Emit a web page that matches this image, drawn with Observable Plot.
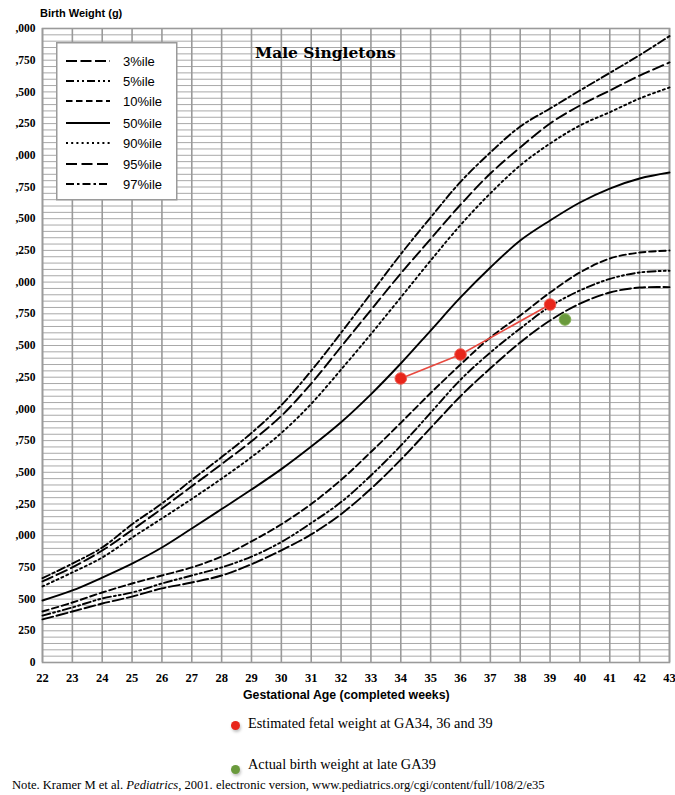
<!DOCTYPE html>
<html><head><meta charset="utf-8">
<script src="https://cdn.jsdelivr.net/npm/d3@7"></script>
<script src="https://cdn.jsdelivr.net/npm/@observablehq/plot@0.6"></script>
<style>
body{margin:0;background:#fff;}
#wrap{position:relative;width:675px;height:795px;overflow:hidden;background:#fff;}
.ov{position:absolute;white-space:nowrap;color:#000;}
</style></head><body><div id="wrap"></div>
<script>
// ---- data ----
const weeks = [22,23,24,25,26,27,28,29,30,31,32,33,34,35,36,37,38,39,40,41,42,43];
const p3  = [340,402,465,520,584,631,686,775,885,1010,1170,1370,1600,1850,2100,2320,2524,2697,2830,2918,2957,2960];
const p5  = [370,434,505,552,623,686,750,835,950,1100,1265,1475,1710,1970,2230,2445,2634,2808,2934,3025,3076,3090];
const p10 = [402,473,552,623,686,750,836,955,1090,1250,1440,1660,1890,2125,2350,2563,2737,2918,3076,3186,3233,3249];
const p50 = [489,568,670,780,907,1057,1210,1364,1525,1703,1895,2115,2358,2618,2879,3115,3328,3486,3628,3738,3817,3864];
const p90 = [600,710,828,985,1136,1290,1450,1620,1810,2040,2310,2590,2879,3170,3450,3700,3920,4093,4235,4340,4448,4535];
const p95 = [640,750,883,1045,1214,1390,1565,1745,1945,2200,2490,2780,3068,3340,3610,3856,4062,4251,4393,4511,4629,4732];
const p97 = [665,780,907,1090,1254,1440,1620,1810,2030,2300,2600,2910,3220,3510,3790,4022,4227,4369,4511,4650,4790,4940];
const seriesNames = ["3%ile","5%ile","10%ile","50%ile","90%ile","95%ile","97%ile"];
const seriesValues = [p3,p5,p10,p50,p90,p95,p97];
const estGA = [34,36,39];
const estWeight = [2240,2429,2823];
const actualGA = [39.5];
const actualWeight = [2705];
const yTicks = [0,250,500,750,1000,1250,1500,1750,2000,2250,2500,2750,3000,3250,3500,3750,4000,4250,4500,4750,5000];
const yTickLabels = ["0","250","500","750",",000",",250",",500",",750",",000",",250",",500",",750",",000",",250",",500",",750",",000",",250",",500",",750",",000"];
const gridY = d3.range(0,5001,50);

// ---- styles ----
const dashes = {"3%ile":"11,3.5","5%ile":"8,3,2,3,2,3","10%ile":"6.5,3.5","50%ile":null,"90%ile":"2,3.2","95%ile":"11,4.5","97%ile":"8,3,2.5,3"};
const yLab = new Map(yTicks.map((v,i)=>[v,yTickLabels[i]]));

const lineMarks = seriesNames.map((name,si)=>Plot.line(
  weeks.map((w,i)=>({ga:w, g:seriesValues[si][i]})),
  {x:"ga", y:"g", curve:"catmull-rom", stroke:"#000", strokeWidth:1.9, strokeDasharray: dashes[name] || undefined}
));
const est = estGA.map((g,i)=>({ga:g, w:estWeight[i]}));
const act = actualGA.map((g,i)=>({ga:g, w:actualWeight[i]}));

const chart = Plot.plot({
  width:675, height:705,
  marginLeft:42, marginRight:6, marginTop:28, marginBottom:43,
  style:{background:"white", fontFamily:"Liberation Serif"},
  x:{domain:[22,43], label:null},
  y:{domain:[0,5000], label:null},
  marks:[
    Plot.ruleY(gridY,{stroke:"#a9a9a9", strokeWidth:1}),
    Plot.ruleX(weeks,{stroke:"#9a9a9a", strokeWidth:1.6}),
    Plot.frame({stroke:"#9a9a9a", strokeWidth:1.6}),
    Plot.axisX({ticks:weeks, tickFormat:d=>String(d), tickSize:0, tickPadding:11, fontSize:12.5, fontWeight:"bold", label:null}),
    Plot.axisY({ticks:yTicks, tickFormat:d=>yLab.get(d), tickSize:0, tickPadding:7, fontSize:11.5, fontWeight:"bold", label:null}),
    ...lineMarks,
    Plot.line(est,{x:"ga", y:"w", stroke:"#e8493f", strokeWidth:1.6}),
    Plot.dot(est,{x:"ga", y:"w", r:5.8, fill:"#e8261b", stroke:"#f05a4f", strokeWidth:1}),
    Plot.dot(act,{x:"ga", y:"w", r:5.8, fill:"#6a9a3c", stroke:"#7fae4f", strokeWidth:1})
  ]
});
const wrap = document.getElementById("wrap");
chart.style.position="absolute"; chart.style.left="0"; chart.style.top="0";
wrap.appendChild(chart);

function ov(html, css){ const d=document.createElement("div"); d.className="ov"; d.innerHTML=html; Object.assign(d.style,css); wrap.appendChild(d); return d; }

ov("Birth Weight (g)",{left:"40px", top:"7px", font:"bold 11px 'Liberation Sans'"});
ov("Male Singletons",{left:"255px", top:"43px", font:"bold 15.5px 'DejaVu Serif'"});
ov("Gestational Age (completed weeks)",{left:"243px", top:"688px", font:"bold 12.3px 'Liberation Sans'"});

// legend box
const rowsY = [61,81,101,123,143,164,184];
let svgL = `<svg width="122" height="159" style="position:absolute;left:0;top:0">
<rect x="0.75" y="0.75" width="120" height="157" fill="white" stroke="#9a9a9a" stroke-width="1.5"/>`;
seriesNames.forEach((n,i)=>{
  const y = rowsY[i]-42;
  svgL += `<line x1="10" x2="54" y1="${y}" y2="${y}" stroke="#000" stroke-width="1.9" ${dashes[n]?`stroke-dasharray="${dashes[n]}"`:""}/>`;
  svgL += `<text x="67" y="${y+4.5}" font-family="Liberation Sans" font-size="13" fill="#000">${n}</text>`;
});
svgL += `</svg>`;
ov(svgL,{left:"56px", top:"42px", width:"122px", height:"159px"});

// bottom legend
ov(`<span style="display:inline-block;width:9px;height:9px;border-radius:50%;background:#e8261b;box-shadow:1px 2px 3px rgba(0,0,0,0.25)"></span>`,{left:"231px", top:"716px"});
ov("Estimated fetal weight at GA34, 36 and 39",{left:"248px", top:"715px", font:"14.3px 'Liberation Serif'"});
ov(`<span style="display:inline-block;width:9px;height:9px;border-radius:50%;background:#6a9a3c;box-shadow:1px 2px 3px rgba(0,0,0,0.25)"></span>`,{left:"231px", top:"760px"});
ov("Actual birth weight at late GA39",{left:"248px", top:"756px", font:"14.3px 'Liberation Serif'"});
ov("Note. Kramer M et al. <i>Pediatrics</i>, 2001. electronic version, www.pediatrics.org/cgi/content/full/108/2/e35",{left:"12px", top:"778px", font:"12.6px 'Liberation Serif'"});
</script></body></html>
